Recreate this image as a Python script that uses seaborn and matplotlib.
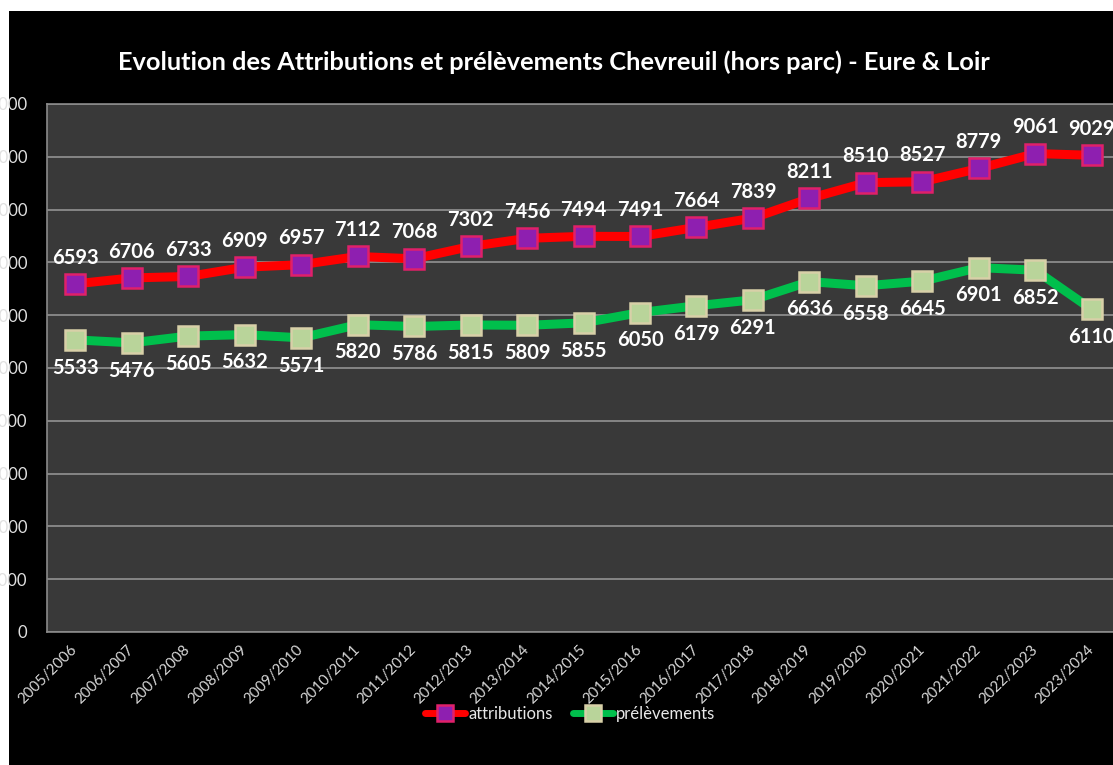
import matplotlib
matplotlib.use("Agg")
import matplotlib.pyplot as plt
from matplotlib.patches import Rectangle
import seaborn as sns
import pandas as pd

seasons = ["2005/2006", "2006/2007", "2007/2008", "2008/2009", "2009/2010",
           "2010/2011", "2011/2012", "2012/2013", "2013/2014", "2014/2015",
           "2015/2016", "2016/2017", "2017/2018", "2018/2019", "2019/2020",
           "2020/2021", "2021/2022", "2022/2023", "2023/2024"]
attributions = [6593, 6706, 6733, 6909, 6957, 7112, 7068, 7302, 7456, 7494,
                7491, 7664, 7839, 8211, 8510, 8527, 8779, 9061, 9029]
prelevements = [5533, 5476, 5605, 5632, 5571, 5820, 5786, 5815, 5809, 5855,
                6050, 6179, 6291, 6636, 6558, 6645, 6901, 6852, 6110]
y_ticks = [0, 1000, 2000, 3000, 4000, 5000, 6000, 7000, 8000, 9000, 10000]
title = "Evolution des Attributions et prélèvements Chevreuil (hors parc) - Eure & Loir"

sns.set_theme(style="dark")
plt.rcParams['font.family'] = ['Lato', 'DejaVu Sans']

W, H = 1113, 765
fig = plt.figure(figsize=(W / 100, H / 100), dpi=100)
fig.patch.set_facecolor("white")
fig.patches.append(Rectangle((9 / W, 0), 1 - 9 / W, (H - 11) / H,
                             transform=fig.transFigure, facecolor="black",
                             edgecolor="none", zorder=-10))

left, right, top, bottom = 47, 1120, 104, 632
ax = fig.add_axes([left / W, (H - bottom) / H, (right - left) / W, (bottom - top) / H])
ax.set_facecolor("#393939")

df = pd.DataFrame({"x": list(range(len(seasons))), "att": attributions, "pre": prelevements})

sns.lineplot(data=df, x="x", y="att", ax=ax, color="#ff0000", lw=6.5,
             marker="s", markersize=14, markerfacecolor="#8e1fb0",
             markeredgecolor="#e0206a", markeredgewidth=1.8, label="attributions", zorder=4)
sns.lineplot(data=df, x="x", y="pre", ax=ax, color="#00bf4c", lw=6.5,
             marker="s", markersize=14, markerfacecolor="#b9d49a",
             markeredgecolor="#d8d0a8", markeredgewidth=1.8, label="prélèvements", zorder=4)

for i, v in enumerate(attributions):
    ax.annotate(str(v), (i, v), xytext=(0, 19), textcoords="offset points",
                ha="center", va="center", color="white", fontsize=14.5,
                fontweight="bold", zorder=6, annotation_clip=False)
for i, v in enumerate(prelevements):
    ax.annotate(str(v), (i, v), xytext=(0, -20), textcoords="offset points",
                ha="center", va="center", color="white", fontsize=14.5,
                fontweight="bold", zorder=6, annotation_clip=False)

ax.set_xlim(-0.5, len(seasons) - 0.5)
ax.set_ylim(0, 10000)
ax.set_yticks(y_ticks)
ax.set_yticklabels([str(t) for t in y_ticks], color="#e0e0e0", fontsize=12)
ax.set_xticks(range(len(seasons)))
ax.set_xticklabels(seasons, rotation=45, ha="right", va="center",
                   rotation_mode="anchor", color="#d8d8d8", fontsize=10.8)
ax.tick_params(axis="y", length=0, pad=14)
ax.tick_params(axis="x", length=0, pad=11)
ax.grid(axis="y", color="#9a9a9a", lw=1.1)
ax.grid(axis="x", visible=False)
for s in ax.spines.values():
    s.set_color("#8a8a8a")
    s.set_linewidth(1.2)
ax.set_xlabel("")
ax.set_ylabel("")

ax.get_legend().remove()
h, l = ax.get_legend_handles_labels()
leg = fig.legend(h, l, loc="center", bbox_to_anchor=(570 / W, 1 - 714 / H), ncol=2,
                 frameon=False, fontsize=12, handlelength=2.4, columnspacing=1.2,
                 handletextpad=0.2, markerscale=0.8)
for t in leg.get_texts():
    t.set_color("#e8e8e8")
for ln in leg.get_lines():
    ln.set_linewidth(5)

fig.text(554 / W, 1 - 62 / H, title, ha="center", va="center", color="white",
         fontsize=18.3, fontweight="bold")

fig.savefig("out.png", dpi=100, facecolor=fig.get_facecolor())
